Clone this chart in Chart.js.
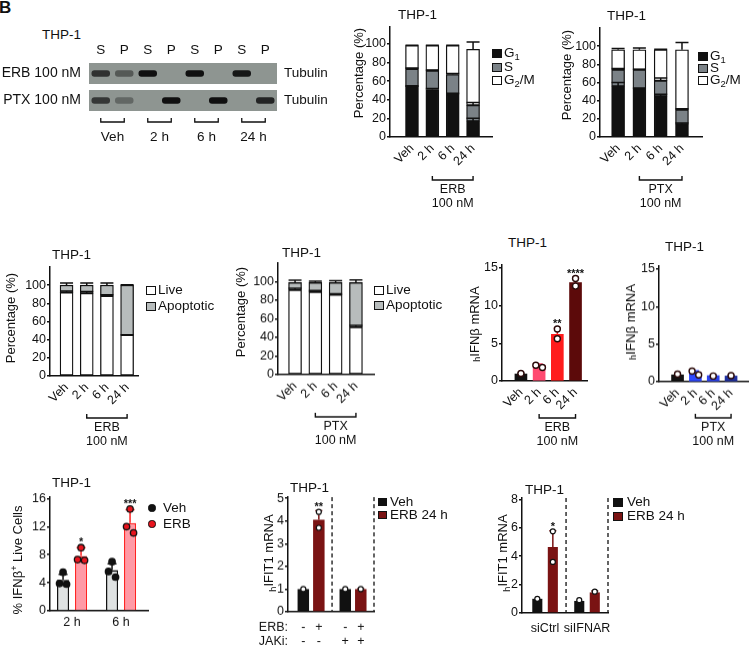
<!DOCTYPE html>
<html><head><meta charset="utf-8">
<script src="https://cdn.jsdelivr.net/npm/chart.js@4/dist/chart.umd.min.js"></script>
<style>
body{margin:0;background:#fff;width:750px;height:648px;overflow:hidden;position:relative;font-family:"Liberation Sans",Arial,sans-serif;color:#111;}
canvas{position:absolute;}
.t{position:absolute;white-space:nowrap;line-height:1;}
.yt{position:absolute;white-space:nowrap;line-height:1;font-size:13px;transform:translate(-50%,-50%) rotate(-90deg);}
.bx{position:absolute;box-sizing:border-box;border:1.5px solid #111;}
.dt{position:absolute;border-radius:50%;box-sizing:border-box;}
sub{font-size:70%;vertical-align:-3px;line-height:0;}
sup{font-size:70%;vertical-align:5px;line-height:0;}
.hs{font-size:70%;position:relative;top:3px;}
</style></head><body>
<script>
// ================= DATA =================
const blotLanes = ['S','P','S','P','S','P','S','P'];
const blotGroups = ['Veh','2 h','6 h','24 h'];
const blotRows = ['ERB 100 nM','PTX 100 nM'];
const blotRight = ['Tubulin','Tubulin'];
const blotBandsERB = [0.75,0.45,1,0,1,0,0.95,0];
const blotBandsPTX = [0.7,0.35,0,1,0,1,0,0.85];

const timeCats = ['Veh','2 h','6 h','24 h'];
const pctTicks = [0,20,40,60,80,100];

const ccErbG1 = [54,51,46,17];
const ccErbS = [19,20,21,17];
const ccErbG2M = [25,27,31,60];
const ccErbG1Err = [1,1,1,3];
const ccErbSErr = [1,1,1,3];
const ccErbG2MErr = [0.5,0.5,0.5,8];

const ccPtxG1 = [56,53,45,14];
const ccPtxS = [18,21,17,16];
const ccPtxG2M = [22,22,34,66];
const ccPtxG1Err = [4,1,2,1.5];
const ccPtxSErr = [1.5,0.5,3,1];
const ccPtxG2MErr = [1.5,2,0.5,8];

const apErbLive = [92,91,88,45];
const apErbApop = [8,9,12,55];
const apErbLiveErr = [1.5,2,1.5,0.5];
const apErbApopErr = [2.5,2.5,2.5,0.5];
const apPtxLive = [91,89,86,51];
const apPtxApop = [8,10,13,48];
const apPtxLiveErr = [2,1.5,1,2];
const apPtxApopErr = [2.5,1.5,2,3];

const ifnTicks = [0,5,10,15];
const ifnErb = [0.93,2.1,6.2,13.05];
const ifnErbErr = [0.1,0.15,0.8,0.7];
const ifnErbDots = [[1.0],[1.8,2.1],[6.9,5.6],[13.6,12.6]];
const ifnErbStars = ['','','**','****'];
const ifnPtx = [0.9,1.2,0.8,0.75];
const ifnPtxErr = [0.1,0.25,0.1,0.1];
const ifnPtxDots = [[1.0],[0.9,1.4],[0.75],[0.8]];

const flowCats = ['2 h','6 h'];
const flowTicks = [0,4,8,12,16];
const flowVeh = [4.4,5.8];
const flowVehErr = [0.8,0.9];
const flowVehDots = [[5.5,3.9,3.8],[7.0,5.6,4.8]];
const flowErb = [7.8,12.5];
const flowErbErr = [1.2,1.9];
const flowErbDots = [[9.0,7.3,7.2],[14.5,12.0,11.1]];
const flowErbStars = ['*','***'];

const jakTicks = [0,1,2,3,4,5];
const jakVeh = [1.0,1.0];
const jakErb = [4.05,1.0];
const jakErbErr = [0.4,0.02];
const jakVehDots = [[1.0],[1.0]];
const jakErbDots = [[4.4,3.7],[1.0]];
const jakErbStars = ['**',''];
const jakSignsERB = ['-','+','-','+'];
const jakSignsJAKi = ['-','-','+','+'];

const siCats = ['siCtrl','siIFNAR'];
const siTicks = [0,2,4,6,8];
const siVeh = [1.0,0.85];
const siErb = [4.65,1.45];
const siErbErr = [1.15,0.1];
const siVehDots = [[1.0],[0.9]];
const siErbDots = [[5.75,3.6],[1.5]];
const siErbStars = ['*',''];

// ================= STYLE =================
const INK = '#111';
const FONT = '"Liberation Sans", Arial, sans-serif';
const COL = {g1:'#111', s:'#7b8287', g2m:'#fff', live:'#fff', apop:'#b7bcbc',
  ifnErb:['#111','#ff4a70','#ff1c1c','#5c0a0a'], ifnPtx:['#111','#2e48ff','#2c43ee','#20309e'],
  flowVeh:'#dfe2e2', flowErb:'#ff9aa6', flowErbLine:'#ff2222', erb24:'#7a1313', blotBg:'#8e9591'};
Chart.defaults.font.family = FONT;
Chart.defaults.font.size = 12;
Chart.defaults.color = INK;
Chart.defaults.animation = false;

const pts = arr => arr.map((v,i)=>({x:i, y:v}));
const pick = (a,i) => Array.isArray(a) ? a[i] : a;
const fixH = h => s => { s.height=h; s.paddingLeft=0; s.paddingRight=0; };
const fixW = w => s => { s.width=w; s.paddingTop=0; s.paddingBottom=0; };

function jitter(pys, r){
  const offs = pys.map(()=>0);
  if(!pys.length) return offs;
  const idx = pys.map((p,i)=>i).sort((a,b)=>pys[a]-pys[b]);
  let cl=[idx[0]];
  const flush=()=>{const n=cl.length; cl.forEach((k,j)=>{offs[k]=(j-(n-1)/2)*2.2*r;});};
  for(let j=1;j<idx.length;j++){ if(pys[idx[j]]-pys[idx[j-1]]<2*r) cl.push(idx[j]); else {flush(); cl=[idx[j]];} }
  flush();
  return offs;
}

const extrasPlugin = {
  id:'extras',
  beforeDatasetsDraw(chart, args, o){
    if(!o || !o.rowBg) return;
    const ctx=chart.ctx, ca=chart.chartArea, ys=chart.scales.y;
    ctx.save(); ctx.fillStyle=o.rowBg;
    ys.getLabels().forEach((l,i)=>{ const yc=ys.getPixelForValue(i); ctx.fillRect(ca.left, yc-o.rowH/2, ca.right-ca.left, o.rowH); });
    ctx.restore();
  },
  afterDatasetsDraw(chart, args, o){
    o = o || {};
    const ctx=chart.ctx, ca=chart.chartArea, ys=chart.scales.y, xs=chart.scales.x;
    const ds = chart.data.datasets;
    ctx.save();
    if(o.dashes){
      ctx.strokeStyle=INK; ctx.lineWidth=1.3; ctx.setLineDash([4,3]);
      o.dashes.forEach(v=>{const px=xs.getPixelForValue(v); ctx.beginPath(); ctx.moveTo(px,ca.top); ctx.lineTo(px,ca.bottom); ctx.stroke();});
      ctx.setLineDash([]);
    }
    const tops = ds.map(()=>[]);
    if(!o.blot){
      ds.forEach((d,di)=>{
        chart.getDatasetMeta(di).data.forEach((el,i)=>{
          let top = el.y;
          if(d.err && d.err[i]){
            const len = ys.getPixelForValue(0)-ys.getPixelForValue(d.err[i]);
            const yt = el.y-len, cw=(d.capW||8)/2;
            ctx.strokeStyle = pick(d.errColor,i)||INK; ctx.lineWidth = d.errW||1.5;
            ctx.beginPath(); ctx.moveTo(el.x, el.y); ctx.lineTo(el.x, yt); ctx.moveTo(el.x-cw, yt); ctx.lineTo(el.x+cw, yt); ctx.stroke();
            top = Math.min(top, yt);
          }
          tops[di][i]=top;
        });
      });
      ds.forEach((d,di)=>{
        if(!d.dots) return;
        chart.getDatasetMeta(di).data.forEach((el,i)=>{
          const vals=d.dots[i]||[], r=d.dotR||3;
          const pys = vals.map(v=>ys.getPixelForValue(v));
          const offs = jitter(pys, r);
          pys.forEach((py,k)=>{
            ctx.beginPath(); ctx.arc(el.x+offs[k], py, r, 0, Math.PI*2);
            ctx.fillStyle=pick(d.dotFill,i); ctx.fill();
            ctx.lineWidth=d.dotLW||1.3; ctx.strokeStyle=pick(d.dotStroke,i); ctx.stroke();
            tops[di][i]=Math.min(tops[di][i], py-r);
          });
        });
      });
      ds.forEach((d,di)=>{
        if(!d.stars) return;
        chart.getDatasetMeta(di).data.forEach((el,i)=>{
          const s=d.stars[i]; if(!s) return;
          ctx.fillStyle=INK; ctx.font='bold 11px '+FONT; ctx.textAlign='center'; ctx.textBaseline='alphabetic';
          ctx.fillText(s, el.x, tops[di][i]+1);
        });
      });
    }
    if(o.bracket){
      const b=o.bracket, x1=xs.getPixelForValue(b.from), x2=xs.getPixelForValue(b.to), y=ca.bottom+b.dy;
      ctx.strokeStyle=INK; ctx.lineWidth=1.4;
      ctx.beginPath(); ctx.moveTo(x1,y-4); ctx.lineTo(x1,y); ctx.lineTo(x2,y); ctx.lineTo(x2,y-4); ctx.stroke();
      ctx.fillStyle=INK; ctx.font='12.5px '+FONT; ctx.textAlign='center'; ctx.textBaseline='middle';
      b.lines.forEach((t,k)=>ctx.fillText(t,(x1+x2)/2, y+10+14*k));
    }
    if(o.laneBrackets){
      const lb=o.laneBrackets, y=ca.bottom+lb.dy;
      ctx.strokeStyle=INK; ctx.lineWidth=1.3;
      for(let k=0;k<lb.n;k++){
        const x1=xs.getPixelForValue(2*k+0.5), x2=xs.getPixelForValue(2*k+1.5);
        ctx.beginPath(); ctx.moveTo(x1,y-4); ctx.lineTo(x1,y); ctx.lineTo(x2,y); ctx.lineTo(x2,y-4); ctx.stroke();
      }
    }
    if(o.signs){
      const items=[];
      ds.forEach((d,di)=>chart.getDatasetMeta(di).data.forEach((el,i)=>items.push({x:el.x, order:i*ds.length+di})));
      items.sort((a,b)=>a.order-b.order);
      ctx.fillStyle=INK; ctx.font='12.5px '+FONT; ctx.textBaseline='middle';
      o.signs.forEach(row=>{
        const y=ca.bottom+row.dy;
        ctx.textAlign='right'; ctx.fillText(row.label, ca.left, y);
        ctx.textAlign='center'; row.signs.forEach((s,k)=>ctx.fillText(s, items[k].x, y));
      });
    }
    ctx.restore();
  },
  afterDraw(chart, args, o){
    if(!o || !o.ytitle) return;
    const t=o.ytitle, ctx=chart.ctx, ca=chart.chartArea;
    ctx.save();
    ctx.translate(ca.left + t.dx, (ca.top+ca.bottom)/2 + (t.dy||0));
    ctx.rotate(-Math.PI/2);
    ctx.fillStyle=INK; ctx.textBaseline='middle'; ctx.textAlign='left';
    ctx.font=t.subSize+'px '+FONT; const wh=ctx.measureText(t.sub).width;
    ctx.font=t.size+'px '+FONT; const wm=ctx.measureText(t.main).width;
    const x0=-(wh+wm)/2;
    ctx.font=t.subSize+'px '+FONT; ctx.fillText(t.sub, x0, t.subShift);
    ctx.font=t.size+'px '+FONT; ctx.fillText(t.main, x0+wh, 0);
    ctx.restore();
  }
};

function place(id,left,top,w,h){
  const c=document.createElement('canvas'); c.id=id; c.width=w; c.height=h;
  c.style.left=left+'px'; c.style.top=top+'px'; c.style.width=w+'px'; c.style.height=h+'px';
  document.body.appendChild(c); return c;
}

function mkChart(id, g, datasets, extra){
  const left=g.L-g.yw, top=g.T-g.padT;
  const w=g.R+g.padR-left, h=g.B+g.xh-top;
  const cv=place(id,left,top,w,h);
  const xl=g.xlabels;
  return new Chart(cv,{
    type:'bar',
    data:{datasets},
    options:{
      responsive:false, animation:false, devicePixelRatio:1,
      layout:{padding:{left:0,top:g.padT,right:g.padR,bottom:0}},
      plugins:{legend:{display:false}, tooltip:{enabled:false}, extras:extra||{}},
      scales:{
        x:{type:'linear', min:g.xmin, max:g.xmax, offset:false, stacked:!!g.stacked,
          afterBuildTicks:ax=>{ax.ticks=g.xticks.map(v=>({value:v}));},
          afterFit:fixH(g.xh),
          grid:{display:false, drawTicks:false},
          border:{display:true, color:INK, width:1.5},
          ticks:{display:!!xl, autoSkip:false, maxRotation:g.rot||0, minRotation:g.rot||0, padding:g.xpad||4,
            font:{size:12.5}, color:INK, callback:v=>xl?xl[Math.round(v)]:''}},
        y:{type:'linear', min:0, max:g.ymax, stacked:!!g.stacked,
          afterBuildTicks:ax=>{ax.ticks=g.yticks.map(v=>({value:v}));},
          afterFit:fixW(g.yw),
          grid:{display:true, drawOnChartArea:false, drawTicks:true, tickLength:3, color:INK, lineWidth:1.5},
          border:{display:true, color:INK, width:1.5},
          ticks:{display:true, padding:1, font:{size:12.5}, color:INK}}
      }
    },
    plugins:[extrasPlugin]
  });
}

// ---------- HTML text helpers ----------
function txt(html,left,cy,size,weight){
  const d=document.createElement('div'); d.className='t'; d.innerHTML=html;
  d.style.left=left+'px'; d.style.top=cy+'px'; d.style.fontSize=(size||13)+'px';
  d.style.transform='translateY(-50%)'; if(weight) d.style.fontWeight=weight;
  document.body.appendChild(d); return d;
}
function ytitle(html,cx,cy){
  const d=document.createElement('div'); d.className='yt'; d.innerHTML=html;
  d.style.left=cx+'px'; d.style.top=cy+'px'; document.body.appendChild(d);
}
function box(left,cy,fill,w,h){
  const d=document.createElement('div'); d.className='bx';
  w=w||10; h=h||9;
  d.style.left=left+'px'; d.style.top=(cy-h/2)+'px'; d.style.width=w+'px'; d.style.height=h+'px'; d.style.background=fill;
  document.body.appendChild(d);
}
function dot(cx,cy,fill,stroke){
  const d=document.createElement('div'); d.className='dt'; const r=3.6;
  d.style.left=(cx-r)+'px'; d.style.top=(cy-r)+'px'; d.style.width=(2*r)+'px'; d.style.height=(2*r)+'px';
  d.style.background=fill; d.style.border='1.2px solid '+stroke; document.body.appendChild(d);
}
function legend(items, boxLeft, textLeft, cys, kind){
  items.forEach((it,k)=>{
    if(kind==='dot') dot(boxLeft, cys[k], it.fill, it.stroke); else box(boxLeft, cys[k], it.fill, it.w, it.h);
    txt(it.label, textLeft, cys[k], 13.5);
  });
}

// ================= PANEL LETTER =================
txt('B', -1, 7, 17, 'bold');

// ================= BLOT =================
txt('THP-1', 42, 35, 13.5);
(function(){
  const yw=89, y2w=60, areaW=188, areaH=54, xth=20, x2h=31;
  const cv=place('blot',0,40,yw+areaW+y2w,xth+areaH+x2h);
  const datasets=blotLanes.map((lane,i)=>{
    const ints=[blotBandsERB[i], blotBandsPTX[i]];
    return {data:ints.map(v=>v>0?[i+0.12,i+0.88]:null),
      backgroundColor:ints.map(v=>'rgba(16,16,16,'+v+')'),
      barThickness:6, borderRadius:3, borderSkipped:false, grouped:false};
  });
  new Chart(cv,{type:'bar', data:{labels:blotRows, datasets},
    options:{indexAxis:'y', responsive:false, animation:false, devicePixelRatio:1, layout:{padding:0},
      plugins:{legend:{display:false}, tooltip:{enabled:false}, extras:{blot:true, rowBg:COL.blotBg, rowH:21, laneBrackets:{n:blotGroups.length, dy:8}}},
      scales:{
        x:{type:'linear', position:'top', min:0, max:8, offset:false,
          afterBuildTicks:ax=>{ax.ticks=blotLanes.map((l,i)=>({value:i+0.5}));},
          afterFit:fixH(xth),
          ticks:{callback:v=>blotLanes[Math.floor(v)], padding:2, font:{size:13.5}, color:INK, autoSkip:false, maxRotation:0, minRotation:0},
          grid:{display:false, drawTicks:false}, border:{display:false}},
        x2:{type:'linear', position:'bottom', min:0, max:8, offset:false,
          afterBuildTicks:ax=>{ax.ticks=blotGroups.map((gname,i)=>({value:2*i+1}));},
          afterFit:fixH(x2h),
          ticks:{callback:v=>blotGroups[Math.round((v-1)/2)], padding:15, font:{size:13.5}, color:INK, autoSkip:false, maxRotation:0, minRotation:0},
          grid:{display:false, drawTicks:false}, border:{display:false}},
        y:{type:'category', position:'left', offset:true,
          afterFit:fixW(yw),
          ticks:{padding:8, font:{size:14}, color:INK},
          grid:{display:false, drawTicks:false}, border:{display:false}},
        y2:{type:'category', position:'right', offset:true, labels:blotRight,
          afterFit:fixW(y2w),
          ticks:{padding:7, font:{size:13.5}, color:INK},
          grid:{display:false, drawTicks:false}, border:{display:false}}
      }},
    plugins:[extrasPlugin]});
})();

// ================= CELL CYCLE =================
function stackDs(vals, fill, err){
  return {data:pts(vals), backgroundColor:fill, borderColor:INK, borderWidth:1.3, borderSkipped:false, barThickness:13, err, capW:13, errColor:INK};
}
mkChart('ccErb',{L:390,T:27,R:492,B:137,yw:32,padT:14,padR:8,xh:75,ymax:118,yticks:pctTicks,
  xmin:-1.08,xmax:3.93,xticks:[0,1,2,3],xlabels:timeCats,rot:45,xpad:4,stacked:true},
  [stackDs(ccErbG1,COL.g1,ccErbG1Err), stackDs(ccErbS,COL.s,ccErbSErr), stackDs(ccErbG2M,COL.g2m,ccErbG2MErr)],
  {bracket:{from:1,to:3,dy:43,lines:['ERB','100 nM']}});
txt('THP-1',398,15,13.5);
ytitle('Percentage (%)',358,73);
legend([{fill:COL.g1,label:'G<sub>1</sub>'},{fill:COL.s,label:'S'},{fill:COL.g2m,label:'G<sub>2</sub>/M'}],492,504,[53,67,80]);

mkChart('ccPtx',{L:600,T:27.7,R:702,B:137.3,yw:32,padT:14,padR:8,xh:75,ymax:120,yticks:pctTicks,
  xmin:-0.85,xmax:3.94,xticks:[0,1,2,3],xlabels:timeCats,rot:45,xpad:4,stacked:true},
  [stackDs(ccPtxG1,COL.g1,ccPtxG1Err), stackDs(ccPtxS,COL.s,ccPtxSErr), stackDs(ccPtxG2M,COL.g2m,ccPtxG2MErr)],
  {bracket:{from:1,to:3,dy:43,lines:['PTX','100 nM']}});
txt('THP-1',607,16,13.5);
ytitle('Percentage (%)',566,75);
legend([{fill:COL.g1,label:'G<sub>1</sub>'},{fill:COL.s,label:'S'},{fill:COL.g2m,label:'G<sub>2</sub>/M'}],698,710,[56,68,80]);

// ================= APOPTOSIS =================
mkChart('apErb',{L:50,T:267,R:138,B:376,yw:32,padT:14,padR:6,xh:78,ymax:120,yticks:pctTicks,
  xmin:-0.82,xmax:3.54,xticks:[0,1,2,3],xlabels:timeCats,rot:45,xpad:4,stacked:true},
  [stackDs(apErbLive,COL.live,apErbLiveErr), stackDs(apErbApop,COL.apop,apErbApopErr)],
  {bracket:{from:1,to:3,dy:42,lines:['ERB','100 nM']}});
txt('THP-1',52,255,13.5);
ytitle('Percentage (%)',10,318);
legend([{fill:COL.live,label:'Live'},{fill:COL.apop,label:'Apoptotic'}],146,158,[290,306]);

mkChart('apPtx',{L:278,T:263.4,R:374,B:375,yw:32,padT:14,padR:4,xh:78,ymax:120,yticks:pctTicks,
  xmin:-0.84,xmax:3.89,xticks:[0,1,2,3],xlabels:timeCats,rot:45,xpad:4,stacked:true},
  [stackDs(apPtxLive,COL.live,apPtxLiveErr), stackDs(apPtxApop,COL.apop,apPtxApopErr)],
  {bracket:{from:1,to:3,dy:42,lines:['PTX','100 nM']}});
txt('THP-1',282,253,13.5);
ytitle('Percentage (%)',240,312);
legend([{fill:COL.live,label:'Live'},{fill:COL.apop,label:'Apoptotic'}],374,386,[290,305]);

// ================= IFNb mRNA =================
function ifnDs(vals, colors, err, dots, stars){
  return {data:pts(vals), backgroundColor:colors, borderWidth:0, barThickness:12, err, capW:7, errColor:colors,
    dots, dotFill:'#fff', dotStroke:'#2a0a0a', dotR:3, dotLW:1.4, stars};
}
const ifnTitle = {sub:'h', main:'IFNβ mRNA', size:13, subSize:9, subShift:3};
mkChart('ifnErb',{L:502,T:265,R:587,B:381,yw:38,padT:14,padR:6,xh:72,ymax:15.4,yticks:ifnTicks,
  xmin:-1.04,xmax:3.63,xticks:[0,1,2,3],xlabels:timeCats,rot:45,xpad:4},
  [ifnDs(ifnErb,COL.ifnErb,ifnErbErr,ifnErbDots,ifnErbStars)],
  {bracket:{from:1,to:3,dy:37,lines:['ERB','100 nM']}, ytitle:Object.assign({dx:-27, dy:1}, ifnTitle)});
txt('THP-1',508,243,13.5);

mkChart('ifnPtx',{L:659,T:266,R:748,B:381.7,yw:38,padT:14,padR:2,xh:72,ymax:15.4,yticks:ifnTicks,
  xmin:-1.04,xmax:3.95,xticks:[0,1,2,3],xlabels:timeCats,rot:45,xpad:4},
  [ifnDs(ifnPtx,COL.ifnPtx,ifnPtxErr,ifnPtxDots,null)],
  {bracket:{from:1,to:3,dy:36,lines:['PTX','100 nM']}, ytitle:Object.assign({dx:-28, dy:-2}, ifnTitle)});
txt('THP-1',665,247,13.5);

// ================= FLOW =================
mkChart('flow',{L:50,T:496.8,R:148,B:610.7,yw:24,padT:14,padR:4,xh:28,ymax:16.2,yticks:flowTicks,
  xmin:-0.45,xmax:1.55,xticks:[0,1],xlabels:flowCats,rot:0,xpad:4},
  [{data:pts(flowVeh), backgroundColor:COL.flowVeh, borderColor:INK, borderWidth:1.5, categoryPercentage:0.735, barPercentage:0.67,
     err:flowVehErr, capW:9, errColor:INK, dots:flowVehDots, dotFill:INK, dotStroke:INK, dotR:3.2},
   {data:pts(flowErb), backgroundColor:COL.flowErb, borderColor:COL.flowErbLine, borderWidth:1.5, categoryPercentage:0.735, barPercentage:0.67,
     err:flowErbErr, capW:9, errColor:COL.flowErbLine, dots:flowErbDots, dotFill:'#e8141e', dotStroke:INK, dotR:3.2, stars:flowErbStars}]);
txt('THP-1',52,483,13.5);
ytitle('% IFNβ<sup>+</sup> Live Cells',17,560);
legend([{fill:INK,stroke:INK,label:'Veh'},{fill:'#e8141e',stroke:INK,label:'ERB'}],152,163,[508,524],'dot');

// ================= IFIT1 JAKi =================
mkChart('jak',{L:288,T:497.2,R:374,B:611.7,yw:44,padT:14,padR:4,xh:36,ymax:5.05,yticks:jakTicks,
  xmin:-0.55,xmax:1.5,xticks:[0,1],xlabels:null,rot:0,xpad:4},
  [{data:pts(jakVeh), backgroundColor:INK, categoryPercentage:0.74, barPercentage:0.74,
     dots:jakVehDots, dotFill:'#fff', dotStroke:INK, dotR:2.5, dotLW:1.2},
   {data:pts(jakErb), backgroundColor:COL.erb24, categoryPercentage:0.74, barPercentage:0.74,
     err:jakErbErr, capW:7, errColor:COL.erb24, dots:jakErbDots, dotFill:'#fff', dotStroke:INK, dotR:2.5, dotLW:1.2, stars:jakErbStars}],
  {dashes:[0.5,1.5], signs:[{label:'ERB:',dy:16,signs:jakSignsERB},{label:'JAKi:',dy:30,signs:jakSignsJAKi}]});
txt('THP-1',290,488,13.5);
ytitle('<span class="hs">h</span>IFIT1 mRNA',269,553);
legend([{fill:INK,label:'Veh',w:9,h:8},{fill:COL.erb24,label:'ERB 24 h',w:9,h:8}],378,390,[502,515]);

// ================= IFIT1 siIFNAR =================
mkChart('si',{L:522,T:497.6,R:608,B:612.7,yw:24,padT:14,padR:4,xh:28,ymax:8.1,yticks:siTicks,
  xmin:-0.55,xmax:1.5,xticks:[0,1],xlabels:siCats,rot:0,xpad:8},
  [{data:pts(siVeh), backgroundColor:INK, categoryPercentage:0.74, barPercentage:0.65,
     dots:siVehDots, dotFill:'#fff', dotStroke:INK, dotR:2.5, dotLW:1.2},
   {data:pts(siErb), backgroundColor:COL.erb24, categoryPercentage:0.74, barPercentage:0.65,
     err:siErbErr, capW:7, errColor:COL.erb24, dots:siErbDots, dotFill:'#fff', dotStroke:INK, dotR:2.5, dotLW:1.2, stars:siErbStars}],
  {dashes:[0.5,1.5]});
txt('THP-1',525,490,13.5);
ytitle('<span class="hs">h</span>IFIT1 mRNA',503,553);
legend([{fill:INK,label:'Veh',w:10,h:9},{fill:COL.erb24,label:'ERB 24 h',w:10,h:9}],613,627,[502,516]);
</script>
</body></html>
